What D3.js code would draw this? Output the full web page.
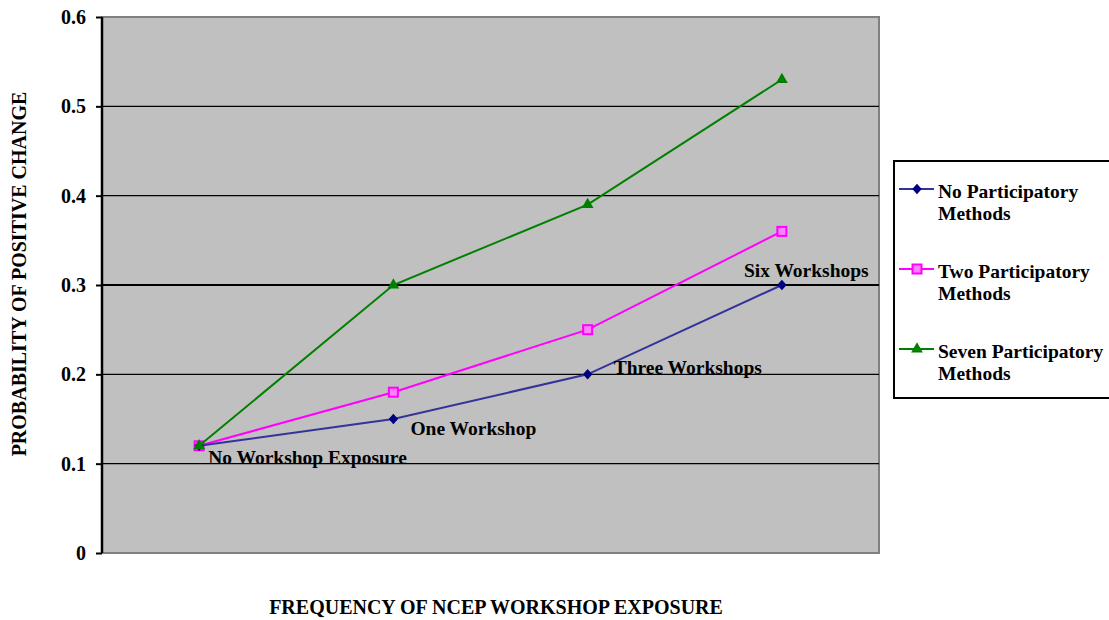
<!DOCTYPE html>
<html>
<head>
<meta charset="utf-8">
<script src="https://cdn.jsdelivr.net/npm/d3@7"></script>
<style>
  body { margin: 0; background: #fff; }
</style>
</head>
<body>
<svg id="chart" width="1109" height="620"></svg>
<script>
const categories = ['No Workshop Exposure', 'One Workshop', 'Three Workshops', 'Six Workshops'];
const noMethods = [0.12, 0.15, 0.20, 0.30];
const twoMethods = [0.12, 0.18, 0.25, 0.36];
const sevenMethods = [0.12, 0.30, 0.39, 0.53];
const yTicks = [0, 0.1, 0.2, 0.3, 0.4, 0.5, 0.6];
const seriesNames = [['No Participatory', 'Methods'], ['Two Participatory', 'Methods'], ['Seven Participatory', 'Methods']];

const series = [
  { name: seriesNames[0], values: noMethods, line: '#333399', mark: '#000080', shape: 'diamond' },
  { name: seriesNames[1], values: twoMethods, line: '#ff00ff', mark: '#ff00ff', shape: 'square' },
  { name: seriesNames[2], values: sevenMethods, line: '#008000', mark: '#008000', shape: 'triangle' },
];

const FONT = '"Liberation Serif"';
const svg = d3.select('#chart');
const plotL = 102, plotR = 879, plotT = 17, plotB = 553;

function styleText(sel, size) {
  return sel.attr('font-family', FONT).attr('font-weight', 'bold').attr('font-size', size).attr('fill', '#000');
}

const x = d3.scaleBand().domain(categories).range([plotL, plotR]);
const y = d3.scaleLinear().domain([0, 0.6]).range([plotB, plotT]);
const cx = (d) => x(d) + x.bandwidth() / 2;

// plot background
svg.append('rect').attr('x', plotL).attr('y', plotT).attr('width', plotR - plotL).attr('height', plotB - plotT)
  .attr('fill', '#c0c0c0').attr('stroke', '#808080').attr('stroke-width', 2);

// grid
svg.append('g').selectAll('line').data(yTicks.filter((t) => t > 0 && t < 0.6)).join('line')
  .attr('x1', plotL).attr('x2', plotR)
  .attr('y1', (d) => y(d)).attr('y2', (d) => y(d))
  .attr('stroke', '#000').attr('stroke-width', (d) => (d === 0.3 ? 2 : 1.2));

// y axis
const yAxis = svg.append('g').attr('transform', `translate(${plotL},0)`)
  .call(d3.axisLeft(y).tickValues(yTicks).tickFormat((d) => (d === 0 ? '0' : d3.format('.1f')(d))).tickSize(6).tickPadding(10));
yAxis.attr('font-family', null);
yAxis.select('.domain').attr('stroke', '#000').attr('stroke-width', 2.5).attr('d', `M0,${plotT}V${plotB}`);
yAxis.selectAll('.tick line').attr('stroke', '#000').attr('stroke-width', 2);
styleText(yAxis.selectAll('.tick text'), 20);

// axis titles
styleText(svg.append('text'), 20).attr('transform', `translate(26,${(plotT + plotB) / 2 - 11}) rotate(-90)`)
  .attr('text-anchor', 'middle').text('PROBABILITY OF POSITIVE CHANGE');
styleText(svg.append('text'), 20).attr('x', 496).attr('y', 614)
  .attr('text-anchor', 'middle').text('FREQUENCY OF NCEP WORKSHOP EXPOSURE');

const line = d3.line().x((d, i) => cx(categories[i])).y((d) => y(d));

function drawMarker(g, shape, color) {
  if (shape === 'diamond') {
    g.append('path').attr('d', d3.symbol(d3.symbolDiamond2, 70)()).attr('fill', color).attr('transform', 'scale(0.9,1)');
  } else if (shape === 'square') {
    g.append('rect').attr('x', -4.5).attr('y', -4.5).attr('width', 9).attr('height', 9)
      .attr('fill', '#ff80ff').attr('stroke', color).attr('stroke-width', 2);
  } else {
    g.append('path').attr('d', d3.symbol(d3.symbolTriangle, 60)()).attr('fill', color);
  }
}

// draw series in order: pink, blue, green (green on top like reference)
[series[1], series[0], series[2]].forEach((s) => {
  svg.append('path').datum(s.values).attr('d', line)
    .attr('fill', 'none').attr('stroke', s.line).attr('stroke-width', 2);
  s.values.forEach((v, i) => {
    const g = svg.append('g').attr('transform', `translate(${cx(categories[i])},${y(v)})`);
    drawMarker(g, s.shape, s.mark);
  });
});

// data labels for the blue series
const labelOffsets = [[9, 18], [17, 16], [26, 0], [-38, -8]];
styleText(svg.append('g').selectAll('text').data(categories).join('text'), 19.5)
  .attr('x', (d, i) => cx(d) + labelOffsets[i][0])
  .attr('y', (d, i) => y(noMethods[i]) + labelOffsets[i][1])
  .text((d) => d);

// legend
const legend = svg.append('g');
legend.append('rect').attr('x', 894).attr('y', 161).attr('width', 216).attr('height', 237)
  .attr('fill', '#fff').attr('stroke', '#000').attr('stroke-width', 2);
series.forEach((s, i) => {
  const ly = 189 + i * 80;
  const g = legend.append('g');
  g.append('line').attr('x1', 899).attr('x2', 934).attr('y1', ly).attr('y2', ly)
    .attr('stroke', s.line).attr('stroke-width', 2);
  drawMarker(g.append('g').attr('transform', `translate(917,${ly})`), s.shape, s.mark);
  s.name.forEach((t, j) => {
    styleText(g.append('text'), 19.5).attr('x', 938).attr('y', ly + 9 + j * 22).text(t);
  });
});
</script>
</body>
</html>
